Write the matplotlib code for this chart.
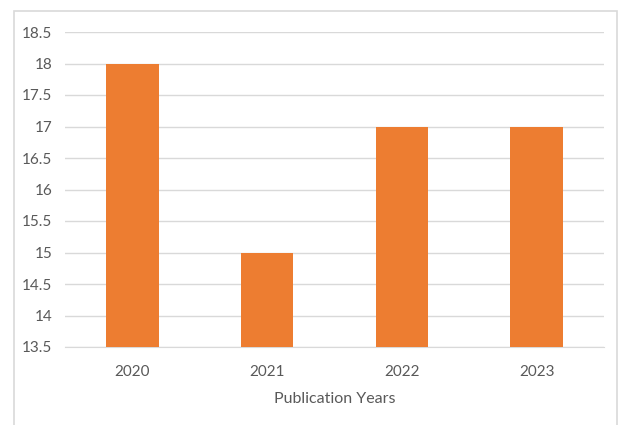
import matplotlib
matplotlib.use("Agg")
import matplotlib.pyplot as plt
from matplotlib.patches import Rectangle

# data
years = ["2020", "2021", "2022", "2023"]
counts = [18, 15, 17, 17]
y_ticks = [13.5, 14, 14.5, 15, 15.5, 16, 16.5, 17, 17.5, 18, 18.5]

plt.rcParams["font.family"] = ["Lato", "DejaVu Sans"]
text_grey = "#595959"

fig = plt.figure(figsize=(6.22, 4.25), dpi=100)
fig.patch.set_facecolor("white")

# light frame around the chart area (Excel style)
fig.patches.append(Rectangle((14 / 622, -0.05), (617 - 14) / 622, 1.05 - 11 / 425,
                             transform=fig.transFigure, fill=False,
                             edgecolor="#D9D9D9", linewidth=1.2))

ax = fig.add_axes([65 / 622, 1 - 347 / 425, (604 - 65) / 622, (347 - 32) / 425])
ax.bar(years, counts, width=0.39, color="#ED7D31", zorder=3)

ax.set_ylim(13.5, 18.5)
ax.set_xlim(-0.5, 3.5)
ax.set_yticks(y_ticks)
ax.set_yticklabels(["%g" % t for t in y_ticks])
ax.yaxis.grid(True, color="#D9D9D9", linewidth=1.0, zorder=0)
ax.set_axisbelow(True)

for s in ax.spines.values():
    s.set_visible(False)
ax.spines["bottom"].set_visible(True)
ax.spines["bottom"].set_color("#D9D9D9")

ax.tick_params(axis="both", length=0, labelsize=11, colors=text_grey)
ax.tick_params(axis="x", pad=13)
ax.tick_params(axis="y", pad=9)

ax.set_xlabel("Publication Years", fontsize=11.5, color=text_grey, labelpad=9)

fig.savefig("out.png", dpi=100)
